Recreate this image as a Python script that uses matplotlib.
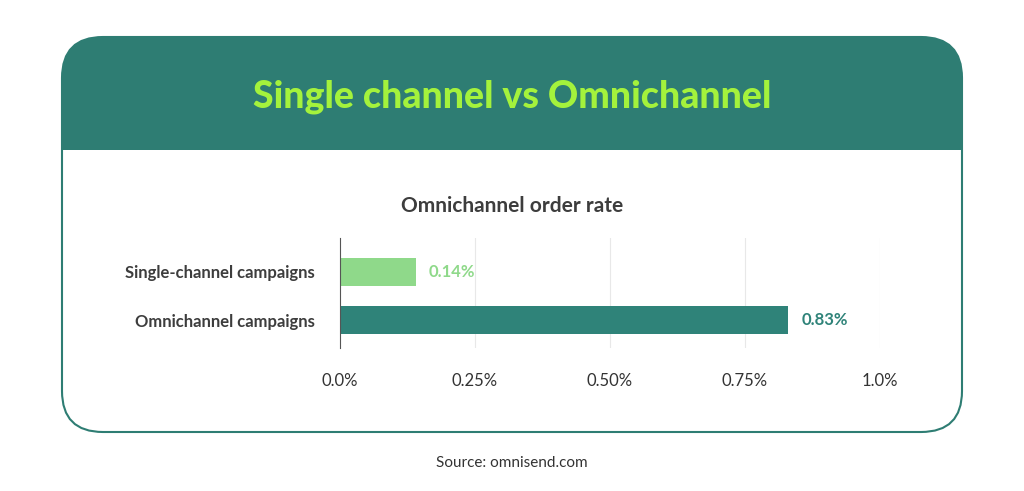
import matplotlib.pyplot as plt
from matplotlib.patches import FancyBboxPatch, Rectangle
import matplotlib.ticker as mticker

categories = ['Omnichannel campaigns', 'Single-channel campaigns']
values = [0.83, 0.14]
labels = ['0.83%', '0.14%']
bar_colors = ['#2f8379', '#8fd98a']
ticks = [0.0, 0.25, 0.5, 0.75, 1.0]
tick_labels = ['0.0%', '0.25%', '0.50%', '0.75%', '1.0%']

teal = '#2e7d73'
plt.rcParams['font.family'] = ['Lato', 'DejaVu Sans']

fig = plt.figure(figsize=(10.24, 4.91), dpi=100)
W, H = 1024, 491

def rbox(x0, y0, x1, y1, fc, ec, z):
    p = FancyBboxPatch((x0 / W, 1 - y1 / H), (x1 - x0) / W, (y1 - y0) / H,
                       boxstyle='round,pad=0,rounding_size=0.04',
                       transform=fig.transFigure, facecolor=fc,
                       edgecolor=ec, linewidth=1.5, mutation_aspect=W / H, zorder=z)
    fig.patches.append(p)

# card: teal base, white lower part, outline on top
rbox(62, 37, 962, 432, teal, 'none', -3)
rbox(62, 150, 962, 432, 'white', 'none', -2)
fig.patches.append(Rectangle((62 / W, 1 - 200 / H), 900 / W, 50 / H,
                             transform=fig.transFigure, facecolor='white',
                             edgecolor='none', zorder=-2))
rbox(62, 37, 962, 432, 'none', teal, -1)

fig.text(0.5, 1 - 97 / H, 'Single channel vs Omnichannel', ha='center', va='center',
         fontsize=27, fontweight='black', color='#a4f23c')
fig.text(0.5, 1 - 206 / H, 'Omnichannel order rate', ha='center', va='center',
         fontsize=15, fontweight='bold', color='#3d3d3d')
fig.text(0.5, 1 - 463 / H, 'Source: omnisend.com', ha='center', va='center',
         fontsize=11, color='#333333')

ax = fig.add_axes([340 / W, 1 - 348 / H, 540 / W, 110 / H])
ax.set_zorder(5)
ax.patch.set_alpha(0)
ypos = [0, 1]
ax.barh(ypos, values, height=0.6, color=bar_colors)
ax.set_ylim(-0.583, 1.708)
ax.set_xlim(0, 1.0)
ax.set_yticks(ypos)
ax.set_yticklabels(categories, fontsize=12, fontweight='bold', color='#3d3d3d')
ax.set_xticks(ticks)
ax.set_xticklabels(tick_labels, fontsize=12, color='#333333')
ax.tick_params(length=0, pad=18, axis='x')
ax.tick_params(length=0, pad=18, axis='y')
for t in ticks[1:]:
    ax.axvline(t, color='#e8e8e8', linewidth=0.8, zorder=0)
for s in ['top', 'right', 'bottom']:
    ax.spines[s].set_visible(False)
ax.spines['left'].set_color('#555555')
for y, v, l, c in zip(ypos, values, labels, bar_colors):
    ax.text(v + 0.025, y, l, va='center', ha='left', fontsize=12,
            fontweight='bold', color=c)

plt.savefig('out.png', dpi=100)
